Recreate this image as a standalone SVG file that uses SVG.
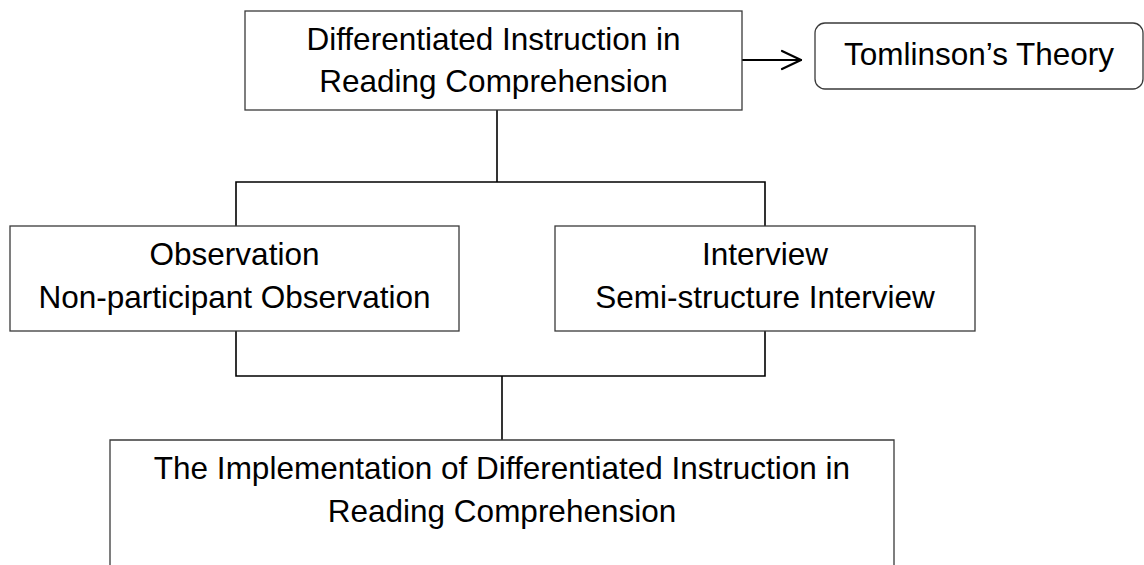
<svg xmlns="http://www.w3.org/2000/svg" width="1144" height="565" viewBox="0 0 1144 565">
  <style>
    .box { fill: #ffffff; stroke: #3a3a3a; stroke-width: 1.3; }
    .conn { fill: none; stroke: #000000; stroke-width: 1.6; }
    .arrow { fill: none; stroke: #000000; stroke-width: 2.2; stroke-linecap: round; stroke-linejoin: round; }
    .lbl { font-family: "Liberation Sans", Arial, sans-serif; font-size: 31.5px; fill: #000000; text-anchor: middle; }
  </style>
  <rect width="1144" height="565" fill="#ffffff"/>
  <g id="connectors">
    <line class="conn" x1="497" y1="110" x2="497" y2="182"/>
    <polyline class="conn" points="236,226 236,182 765,182 765,226"/>
    <polyline class="conn" points="236,331 236,376 765,376 765,331"/>
    <line class="conn" x1="502" y1="376" x2="502" y2="440"/>
    <line class="arrow" x1="741" y1="60" x2="801" y2="60"/>
    <polyline class="arrow" points="782,51 801,60 782,69"/>
  </g>
  <g id="node-top">
    <rect class="box" x="245" y="11" width="497" height="99"/>
    <text class="lbl" x="493.5" y="50">Differentiated Instruction in</text>
    <text class="lbl" x="493.5" y="92">Reading Comprehension</text>
  </g>
  <g id="node-theory">
    <rect class="box" x="815" y="23" width="328" height="66" rx="10" ry="10"/>
    <text class="lbl" x="979" y="65">Tomlinson’s Theory</text>
  </g>
  <g id="node-observation">
    <rect class="box" x="10" y="226" width="449" height="105"/>
    <text class="lbl" x="234.5" y="265">Observation</text>
    <text class="lbl" x="234.5" y="308">Non-participant Observation</text>
  </g>
  <g id="node-interview">
    <rect class="box" x="555" y="226" width="420" height="105"/>
    <text class="lbl" x="765" y="265">Interview</text>
    <text class="lbl" x="765" y="308">Semi-structure Interview</text>
  </g>
  <g id="node-implementation">
    <path class="box" d="M110,570 L110,440 L894,440 L894,570"/>
    <text class="lbl" x="502" y="479">The Implementation of Differentiated Instruction in</text>
    <text class="lbl" x="502" y="522">Reading Comprehension</text>
  </g>
</svg>
